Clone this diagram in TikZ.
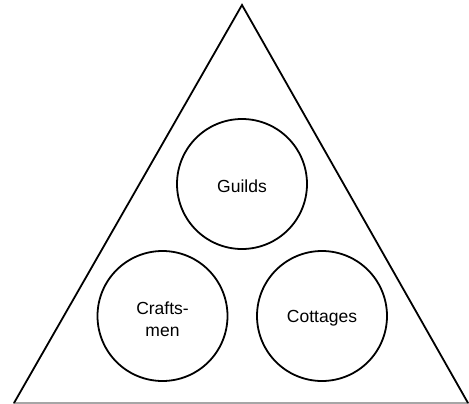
\documentclass[tikz,border=0pt]{standalone}
\usepackage{fontspec}
\setmainfont{Liberation Sans}
\begin{document}
\begin{tikzpicture}[x=1pt,y=-1pt,
  ring/.style={circle,draw=black,line width=1.8pt,minimum size=130pt,inner sep=0pt},
  label/.style={align=center,font=\fontsize{17.5}{22}\selectfont},
  edge/.style={draw=black,line width=1.8pt,line join=miter}]
\useasboundingbox (0,0) rectangle (469,404);
\coordinate (apex) at (242,5);
\coordinate (bl) at (14,403);
\coordinate (br) at (468,403);
\coordinate (gl) at (13,403);
\coordinate (gr) at (469,403);
\draw[gray!70,line width=1.2pt] (gl) -- (gr);
\draw[edge] (bl) -- (apex) -- (br);
\node[ring] (guilds) at (242,184) {};
\node[ring] (crafts) at (162.5,316) {};
\node[ring] (cottages) at (322,316) {};
\node[label] (tguilds) at ([yshift=-2pt]guilds.center) {Guilds};
\node[label] (tcrafts) at ([yshift=-3pt]crafts.center) {Crafts-\\men};
\node[label] (tcottages) at ([yshift=-2pt]cottages.center) {Cottages};
\end{tikzpicture}
\end{document}
